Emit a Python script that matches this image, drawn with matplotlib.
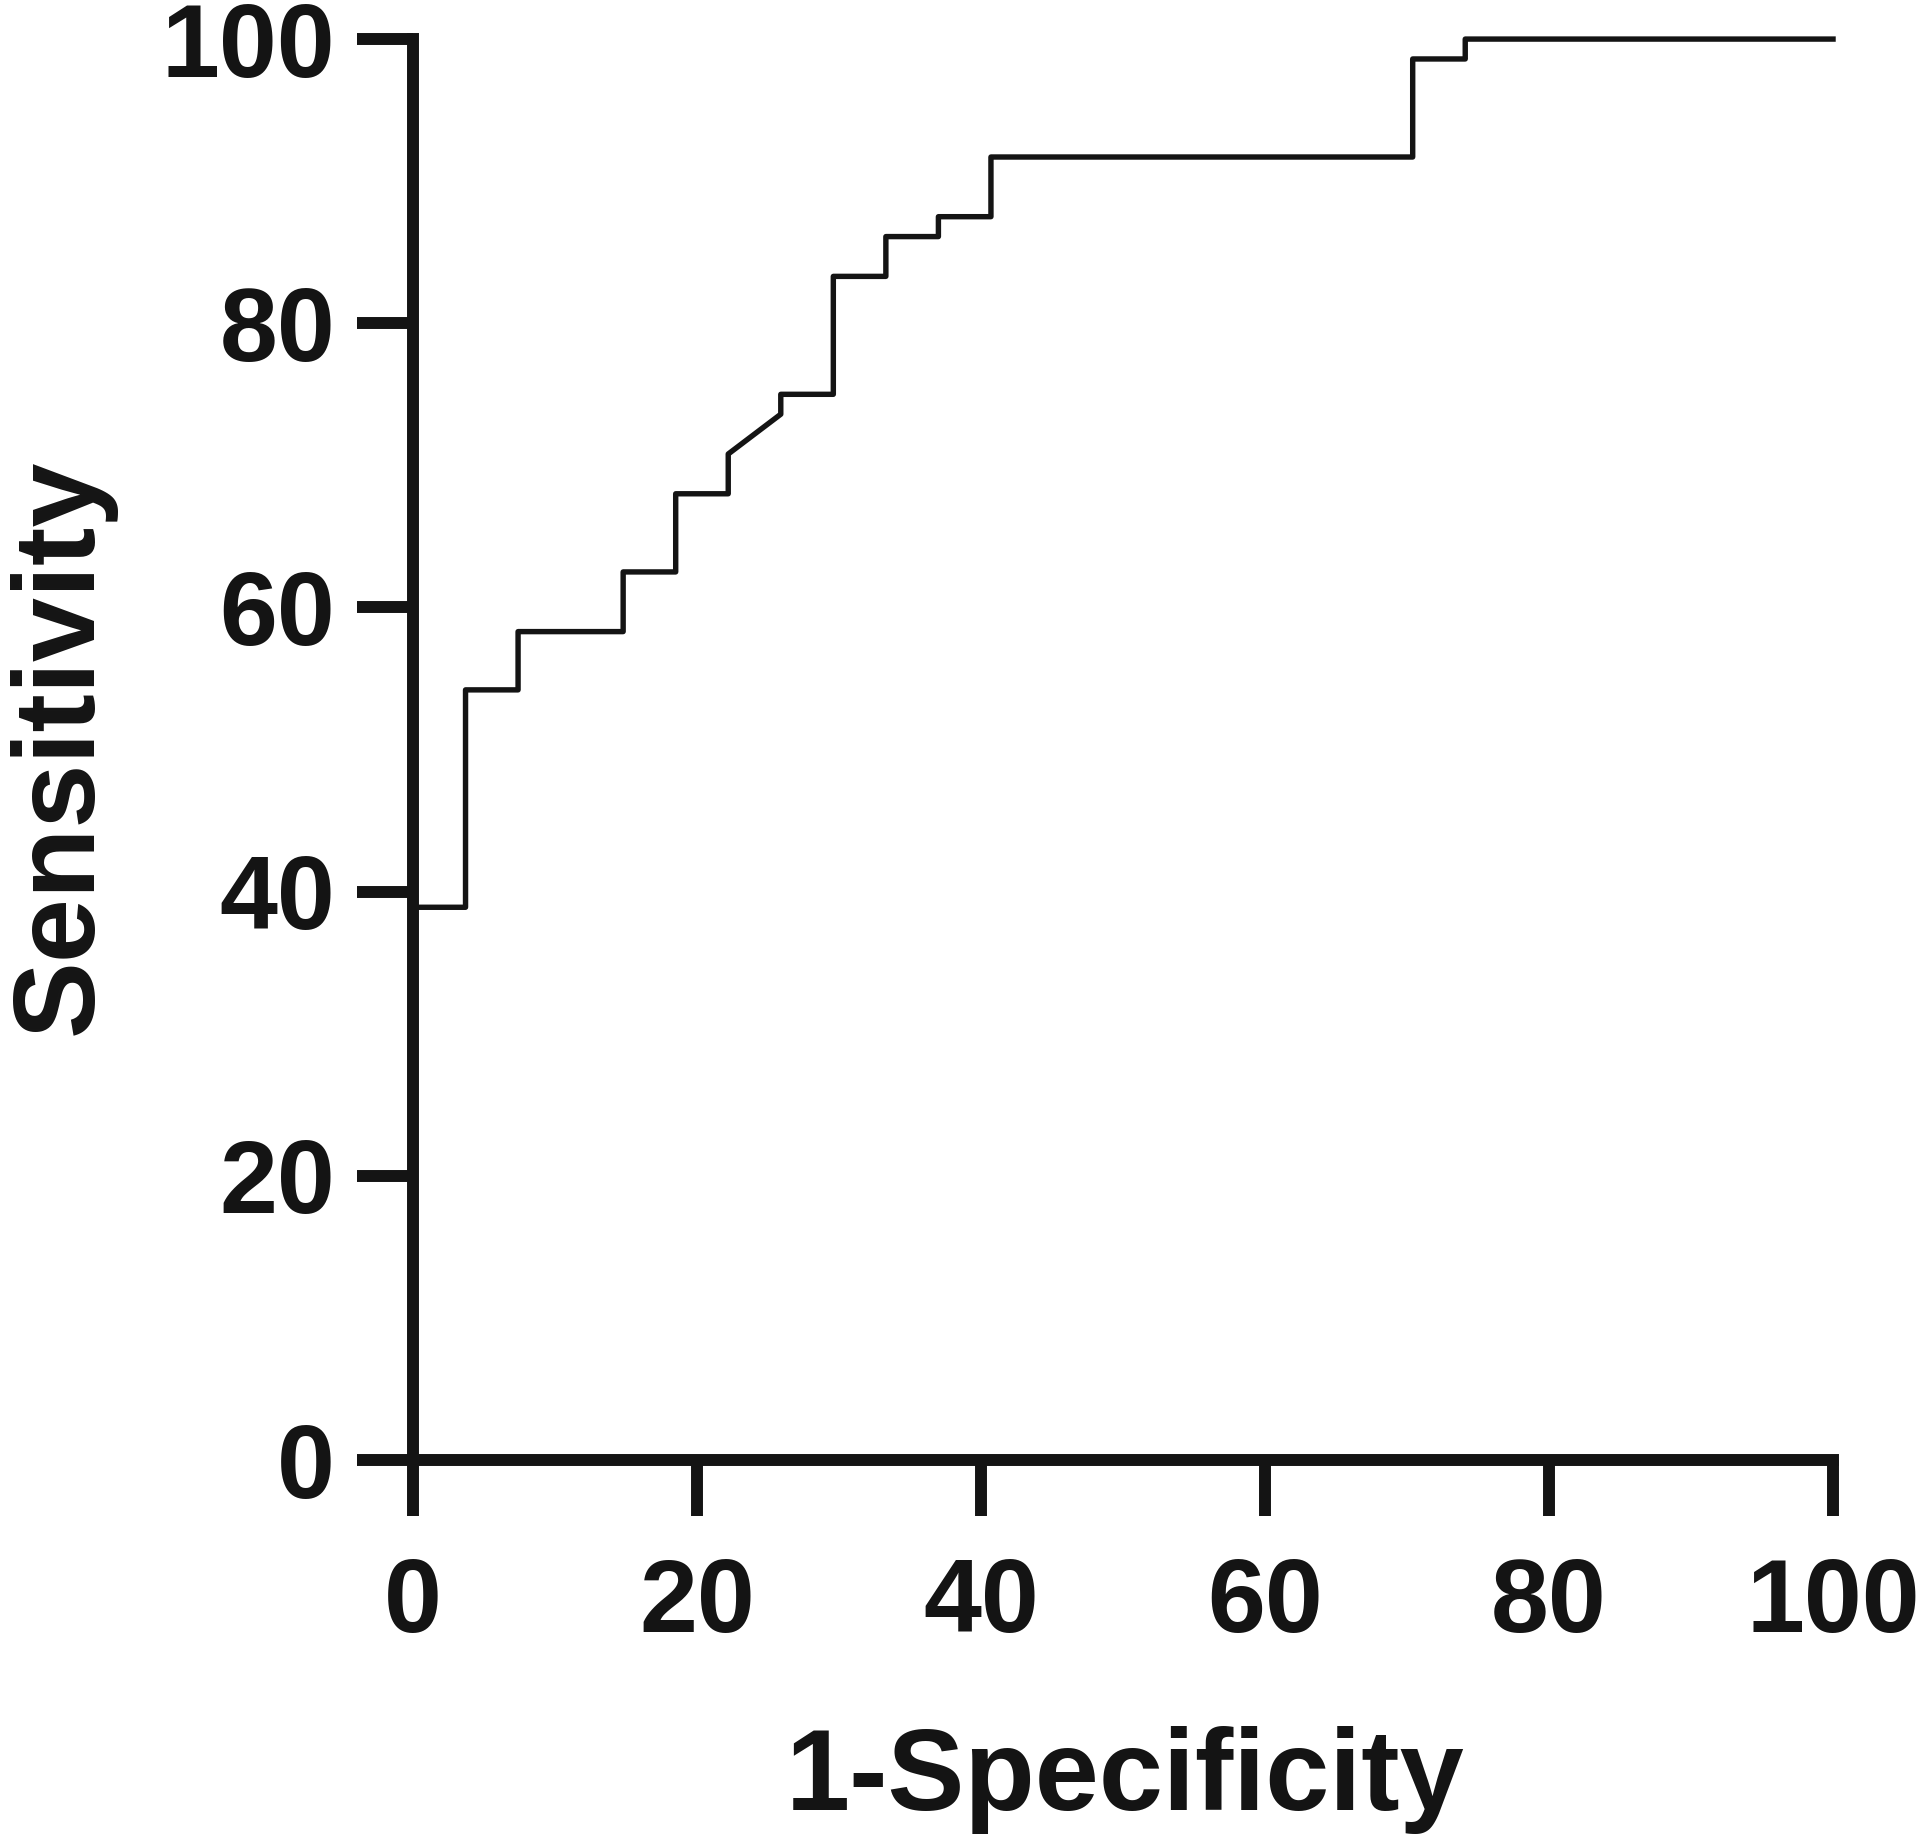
import matplotlib
matplotlib.use("Agg")
import matplotlib.pyplot as plt

# =========================
# DATA (ROC curve vertices)
# =========================
fpr = [0, 3.7, 3.7, 7.4, 7.4, 14.8, 14.8, 18.5, 18.5, 22.2, 22.2, 25.9, 25.9,
       29.6, 29.6, 33.3, 33.3, 37.0, 37.0, 40.7, 40.7, 70.4, 70.4, 74.1, 74.1, 100]
tpr = [38.9, 38.9, 54.2, 54.2, 58.3, 58.3, 62.5, 62.5, 68.0, 68.0, 70.8, 73.6, 75.0,
       75.0, 83.3, 83.3, 86.1, 86.1, 87.5, 87.5, 91.7, 91.7, 98.6, 98.6, 100, 100]

ticks = [0, 20, 40, 60, 80, 100]
x_label = "1-Specificity"
y_label = "Sensitivity"

ink = "#141414"
plt.rcParams["font.family"] = ["Liberation Sans", "DejaVu Sans"]
plt.rcParams["font.weight"] = "bold"

# =========================
# FIGURE
# =========================
fig = plt.figure(figsize=(19.2, 18.43), dpi=100)
ax = fig.add_axes([0.2151, 0.2078, 0.7396, 0.7710])

ax.plot(fpr, tpr, color=ink, lw=3.9, solid_joinstyle="round", clip_on=False)

ax.set_xlim(0, 100)
ax.set_ylim(0, 100)
ax.set_xticks(ticks)
ax.set_yticks(ticks)

for side in ["top", "right"]:
    ax.spines[side].set_visible(False)
for side in ["left", "bottom"]:
    ax.spines[side].set_linewidth(8.6)
    ax.spines[side].set_color(ink)
    ax.spines[side].set_capstyle("projecting")

ax.tick_params(axis="both", direction="out", length=40, width=8.6,
               color=ink, labelcolor=ink, labelsize=75)
ax.tick_params(axis="y", pad=16)
ax.tick_params(axis="x", pad=30)
for lab in ax.get_xticklabels() + ax.get_yticklabels():
    lab.set_fontweight("bold")

# axis titles
fig.text(1125 / 1920, 1 - 1810 / 1843, x_label, fontsize=83, fontweight="bold",
         color=ink, ha="center", va="baseline")
fig.text(92 / 1920, 1 - 747 / 1843, y_label, fontsize=83, fontweight="bold",
         color=ink, rotation=90, rotation_mode="anchor", ha="center", va="baseline")

fig.savefig("out.png", dpi=100, facecolor="white")
